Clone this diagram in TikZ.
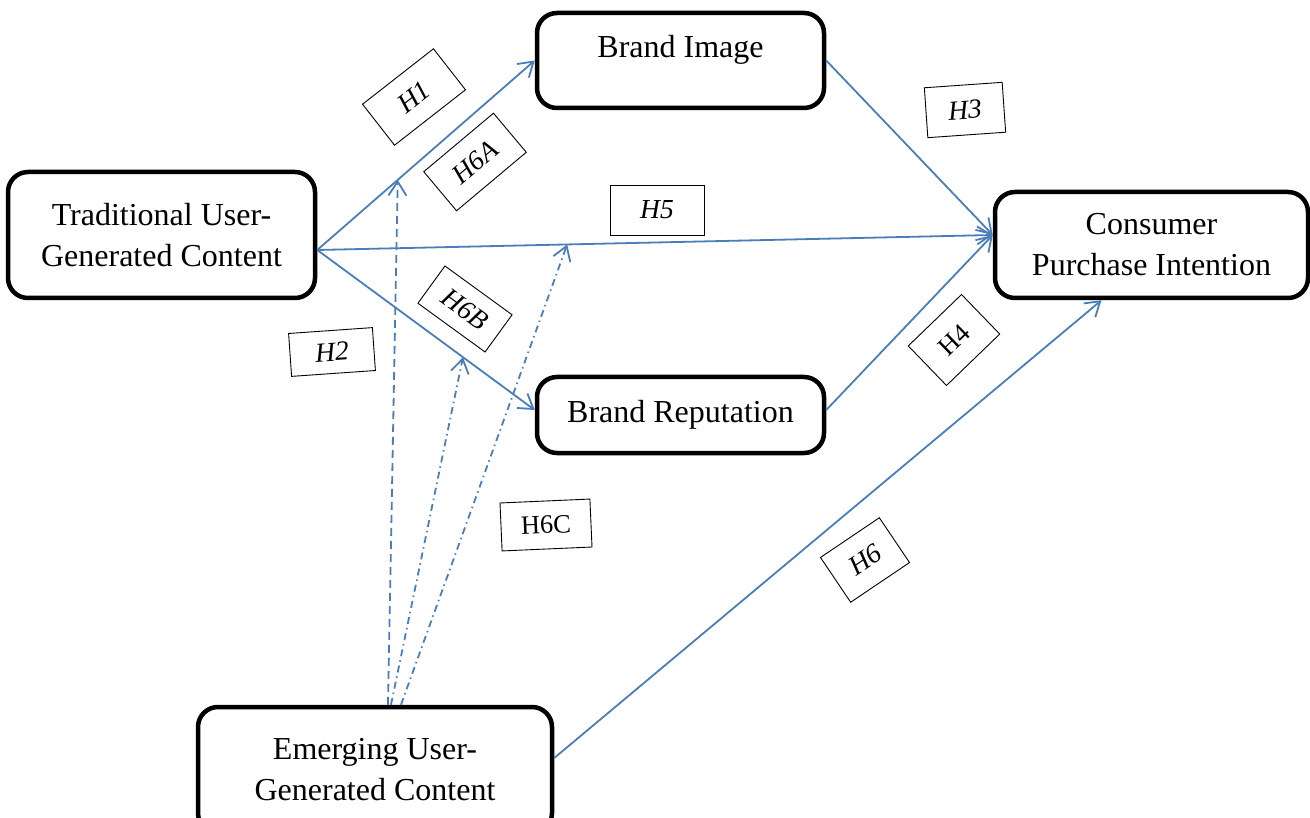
\documentclass[tikz,border=0pt]{standalone}
\usepackage{fontspec}
\setmainfont{Liberation Serif}
\usetikzlibrary{arrows.meta,calc}
\definecolor{lineblue}{RGB}{74,126,187}
\begin{document}
\begin{tikzpicture}[x=1pt,y=-1pt,
  ubox/.style={draw=black, line width=4.5pt, rounded corners=20pt, align=center,
    font=\fontsize{32}{41}\selectfont, inner sep=0pt},
  hyp/.style={draw=black, line width=0.9pt, font=\fontsize{27.5}{30}\selectfont\itshape, inner sep=0pt},
  hypup/.style={hyp, font=\fontsize{26.5}{30}\selectfont\upshape},
  conn/.style={draw=lineblue, line width=1.8pt,
    -{Straight Barb[length=14pt,width=18pt,line width=1.8pt]}},
  dashline/.style={conn, dash pattern=on 8pt off 5pt},
  dashdotline/.style={conn, dash pattern=on 7pt off 4pt on 1.5pt off 4pt},
]
\useasboundingbox (0,0) rectangle (1310,818);
\clip (0,0) rectangle (1310,818);

% boxes
\node[ubox, minimum width=307pt, minimum height=126pt] (trad) at (161.5,235)
  {Traditional User-\\Generated Content};
\node[ubox, minimum width=287pt, minimum height=95pt, text height=22pt, text depth=27pt] (BI) at (680.5,60.5)
  {Brand Image};
\node[ubox, minimum width=287pt, minimum height=76pt] (BR) at (680.5,415)
  {Brand Reputation};
\node[ubox, minimum width=313pt, minimum height=106pt] (cons) at (1151.5,245)
  {Consumer\\Purchase Intention};
\node[ubox, minimum width=354pt, minimum height=126pt] (emerg) at (375,770)
  {Emerging User-\\Generated Content};

% anchor points
\coordinate (ts) at ([yshift=-15pt]trad.east);
\coordinate (brin) at ([yshift=5pt]BR.west);
\coordinate (brout) at ([yshift=5pt]BR.east);
\coordinate (cin) at ([yshift=10pt]cons.west);
\coordinate (cbot) at ([xshift=-50pt]cons.south);
\coordinate (eout) at ([yshift=12pt]emerg.east);
\coordinate (p1) at ($(ts)!0.37!(BI.west)$);
\coordinate (p2) at ($(ts)!0.67!(brin)$);
\coordinate (p3) at ($(ts)!0.37!(cin)$);

% connectors
\draw[conn] (ts) -- (BI.west);
\draw[conn] (ts) -- (brin);
\draw[conn] (ts) -- (cin);
\draw[conn] (BI.east) -- (cin);
\draw[conn] (brout) -- (cin);
\draw[conn] (eout) -- (cbot);
\draw[dashline] ([xshift=13pt]emerg.north) -- (p1);
\draw[dashdotline] ([xshift=16pt]emerg.north) -- (p2);
\draw[dashdotline] ([xshift=26pt]emerg.north) -- (p3);

% hypothesis labels
\node[hyp, minimum width=90pt, minimum height=52pt, rotate=38] (h1) at (414,97) {H1};
\node[hyp, minimum width=91pt, minimum height=51pt, rotate=40] (h6a) at (475,162) {H6A};
\node[hyp, minimum width=83pt, minimum height=46pt, rotate=-36] (h6b) at (465,309) {H6B};
\node[hyp, minimum width=84pt, minimum height=43pt, rotate=4] (h2) at (332,352) {H2};
\node[hyp, minimum width=78pt, minimum height=50pt, rotate=4] (h3) at (965,110) {H3};
\node[hypup, minimum width=74pt, minimum height=55pt, rotate=44] (h4) at (954,340) {H4};
\node[hyp, minimum width=94pt, minimum height=50pt] (h5) at (657,210) {H5};
\node[hyp, minimum width=71pt, minimum height=54pt, rotate=34] (h6) at (865,560) {H6};
\node[hypup, minimum width=90pt, minimum height=48pt, rotate=2.5] (h6c) at (546,525) {H6C};
\end{tikzpicture}
\end{document}
